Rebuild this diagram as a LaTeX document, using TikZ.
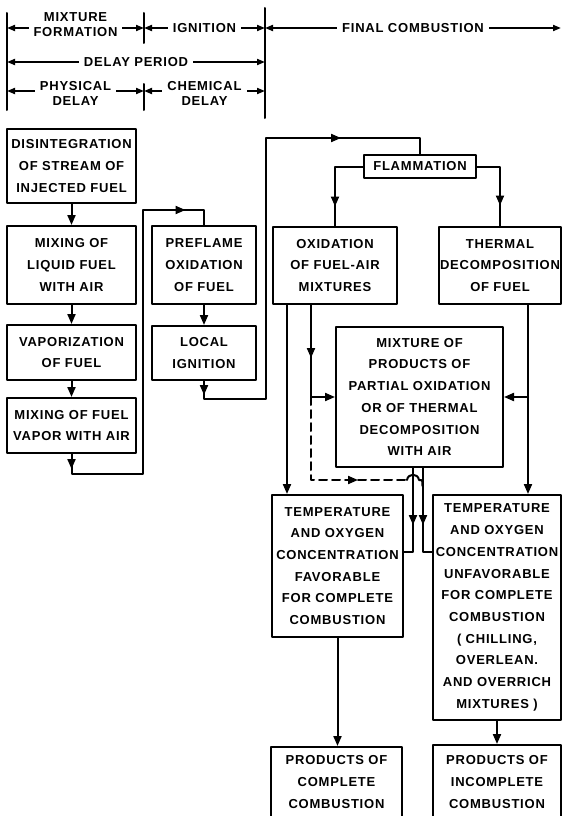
\documentclass[tikz,border=0pt]{standalone}
\usepackage{fontspec}
\newfontfamily\lblfont{Liberation Sans}[LetterSpace=6]
\newcommand\flowfont{\lblfont\bfseries\fontsize{13}{21.7}\selectfont}
\newcommand\headfont{\lblfont\bfseries\fontsize{13}{15}\selectfont}
\usetikzlibrary{arrows.meta,decorations.markings}

\tikzset{
  box/.style={draw,line width=2pt,inner sep=0pt,align=center,font=\flowfont},
  conn/.style={line width=2pt},
  tip/.style={-{Triangle[length=10pt,width=8pt]}},
  midtip/.style={postaction={decorate},decoration={markings,
    mark=at position #1 with {\arrow{Triangle[length=10pt,width=8pt]}}}},
  twotips/.style 2 args={postaction={decorate},decoration={markings,
    mark=at position #1 with {\arrow{Triangle[length=10pt,width=8pt]}},
    mark=at position #2 with {\arrow{Triangle[length=10pt,width=8pt]}}}},
  dimline/.style={line width=1.8pt,{Triangle[length=8pt,width=6pt]}-{Triangle[length=8pt,width=6pt]}},
  dimtext/.style={fill=white,inner xsep=5pt,inner ysep=1pt,align=center,font=\headfont}
}

\begin{document}
\begin{tikzpicture}[x=1pt,y=-1pt,line cap=round,line join=round]
    \useasboundingbox (0,0) rectangle (562,816);

    % time scale on top
    \draw[conn] (7,13) -- (7,110);
    \draw[conn] (144,13) -- (144,43);
    \draw[conn] (144,84) -- (144,110);
    \draw[conn] (265,8) -- (265,118);
    \draw[dimline] (7,28) -- (144,28) node[dimtext,midway,yshift=3pt] (hmix) {MIXTURE\\FORMATION};
    \draw[dimline] (144,28) -- (265,28) node[dimtext,midway] (hign) {IGNITION};
    \draw[dimline] (265,28) -- (561,28) node[dimtext,midway] (hfin) {FINAL COMBUSTION};
    \draw[dimline] (7,62) -- (265,62) node[dimtext,midway] (hdel) {DELAY PERIOD};
    \draw[dimline] (7,91) -- (144,91) node[dimtext,midway,yshift=-2pt] (hphy) {PHYSICAL\\DELAY};
    \draw[dimline] (144,91) -- (265,91) node[dimtext,midway,yshift=-2pt] (hche) {CHEMICAL\\DELAY};

    % physical delay
    \node[box,minimum width=129pt,minimum height=74pt] (disint) at (71.5,166) {DISINTEGRATION\\OF STREAM OF\\INJECTED FUEL};
    \node[box,minimum width=129pt,minimum height=78pt] (mixliq) at (71.5,265) {MIXING OF\\LIQUID FUEL\\WITH AIR};
    \node[box,minimum width=129pt,minimum height=55pt] (vapor) at (71.5,352.5) {VAPORIZATION\\OF FUEL};
    \node[box,minimum width=129pt,minimum height=55pt] (mixvap) at (71.5,425.5) {MIXING OF FUEL\\VAPOR WITH AIR};

    % chemical delay
    \node[box,minimum width=104pt,minimum height=78pt] (preflame) at (204,265) {PREFLAME\\OXIDATION\\OF FUEL};
    \node[box,minimum width=104pt,minimum height=54pt] (localign) at (204,353) {LOCAL\\IGNITION};

    % combustion
    \node[box,minimum width=112pt,minimum height=23pt] (flam) at (420,166.5) {FLAMMATION};
    \node[box,minimum width=124pt,minimum height=77pt] (oxid) at (335,265.5) {OXIDATION\\OF FUEL-AIR\\MIXTURES};
    \node[box,minimum width=122pt,minimum height=77pt] (thermal) at (500,265.5) {THERMAL\\DECOMPOSITION\\OF FUEL};
    \node[box,minimum width=167pt,minimum height=140pt] (mixprod) at (419.5,397) {MIXTURE OF\\PRODUCTS OF\\PARTIAL OXIDATION\\OR OF THERMAL\\DECOMPOSITION\\WITH AIR};
    \node[box,minimum width=131pt,minimum height=142pt] (favor) at (337.5,566) {TEMPERATURE\\AND OXYGEN\\CONCENTRATION\\FAVORABLE\\FOR COMPLETE\\COMBUSTION};
    \node[box,minimum width=128pt,minimum height=225pt] (unfav) at (497,607.5) {TEMPERATURE\\AND OXYGEN\\CONCENTRATION\\UNFAVORABLE\\FOR COMPLETE\\COMBUSTION\\( CHILLING,\\OVERLEAN.\\AND OVERRICH\\MIXTURES )};
    \node[box,minimum width=131pt,minimum height=70pt] (prodc) at (336.5,782) {PRODUCTS OF\\COMPLETE\\COMBUSTION};
    \node[box,minimum width=128pt,minimum height=74pt] (prodi) at (497,782) {PRODUCTS OF\\INCOMPLETE\\COMBUSTION};

    % left column
    \draw[conn,tip] (disint) -- (mixliq);
    \draw[conn,tip] (mixliq) -- (vapor);
    \draw[conn,tip] (vapor) -- (mixvap);
    \draw[conn,twotips={15pt}{398pt}] (mixvap.south) -- ++(0,20) -| (143,210) -| (preflame.north);
    \draw[conn,tip] (preflame) -- (localign);
    \draw[conn,twotips={14pt}{416pt}] (localign.south) -- ++(0,18) -| (266,138) -| (flam.north);

    % flammation branches
    \draw[conn,midtip=68pt] (flam.west) -| (oxid.north);
    \draw[conn,midtip=62pt] (flam.east) -| (thermal.north);

    \coordinate (oxl) at ([xshift=15pt]oxid.south west);
    \coordinate (oxr) at ([xshift=39pt]oxid.south west);
    \coordinate (thr) at ([xshift=-34pt]thermal.south east);
    \coordinate (mpl) at ([xshift=-6.5pt]mixprod.south);
    \coordinate (mpr) at ([xshift=3.5pt]mixprod.south);
    \coordinate (dsh) at (oxr |- mixprod.west);
    \coordinate (hop) at ([yshift=-12pt]mpl);

    \draw[conn,tip] (oxl) -- (oxl |- favor.north);
    \draw[conn,tip,midtip=53pt] (oxr) |- (mixprod.west);
    \draw[conn,tip] (thr) -- (thr |- unfav.north);
    \draw[conn,tip] (thr |- mixprod.east) -- (mixprod.east);

    % dashed bypass, hopping over the left line
    \draw[conn,dash pattern=on 8pt off 5pt,midtip=130pt] (dsh) |- ([xshift=-6pt]hop) coordinate (hopa);
    \draw[conn] (hopa) .. controls +(1,-7) and +(-1,-7) .. ++(12,0) .. controls +(3.5,0) .. ++(3.5,6);

    \draw[conn,midtip=57pt] (mpl) |- ([yshift=14pt]favor.east);
    \draw[conn,midtip=57pt] (mpr) |- ([yshift=55.5pt]unfav.west);

    \draw[conn,tip] (favor.south) -- (favor.south |- prodc.north);
    \draw[conn,tip] (unfav.south) -- (prodi.north);
\end{tikzpicture}
\end{document}
